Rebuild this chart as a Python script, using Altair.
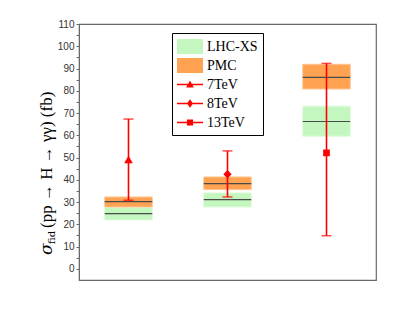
import altair as alt
import pandas as pd

# ---- data ----
energies = ["7TeV", "8TeV", "13TeV"]
xpos = [1, 2, 3]
lhc_lo = [22.0, 27.8, 59.6]
lhc_mid = [24.8, 31.1, 66.2]
lhc_hi = [27.5, 34.1, 73.1]
pmc_lo = [27.8, 35.6, 80.8]
pmc_mid = [30.2, 38.3, 86.0]
pmc_hi = [32.3, 41.3, 91.9]
meas = [49.1, 42.5, 52.1]
meas_lo = [30.8, 32.3, 14.9]
meas_hi = [67.3, 53.0, 92.3]
legend_names = ["LHC-XS", "PMC", "7TeV", "8TeV", "13TeV"]
y_ticks = list(range(0, 111, 5))
title_parts = ["σ", "fid", "(pp → H → γγ) (fb)"]

# ---- styles ----
GREEN = "#c4f7bf"
GREEN_EDGE = "#dcfbd8"
ORANGE = "#ffa352"
ORANGE_EDGE = "#ffc594"
RED = "#ff0000"
MIDLINE = "#4a4a4a"
HALF = 0.24
marker_shapes = ["triangle-up", "diamond", "square"]
marker_sizes = [75, 70, 45]

line_path = "M-1.53,-0.08L1.53,-0.08L1.53,0.08L-1.53,0.08Z"
legend_paths = [
    "M-1.53,-0.88L1.53,-0.88L1.53,0.88L-1.53,0.88Z",
    "M-1.53,-0.88L1.53,-0.88L1.53,0.88L-1.53,0.88Z",
    line_path + "M0,-0.47L0.45,0.35L-0.45,0.35Z",
    line_path + "M0,-0.5L0.35,0L0,0.5L-0.35,0Z",
    line_path + "M-0.36,-0.36L0.36,-0.36L0.36,0.36L-0.36,0.36Z",
]
legend_colors = [GREEN, ORANGE, RED, RED, RED]

df = pd.DataFrame(dict(
    energy=energies, x=xpos,
    lhc_lo=lhc_lo, lhc_mid=lhc_mid, lhc_hi=lhc_hi,
    pmc_lo=pmc_lo, pmc_mid=pmc_mid, pmc_hi=pmc_hi,
    meas=meas, meas_lo=meas_lo, meas_hi=meas_hi,
))

xscale = alt.Scale(domain=[0.5, 3.5], nice=False, zero=False)
yscale = alt.Scale(domain=[-5, 110], nice=False, zero=False)


def X(field):
    return alt.X(field, scale=xscale, axis=None)


def Y(field):
    return alt.Y(field, scale=yscale, title=None, axis=alt.Axis(
        values=y_ticks, labelOverlap=False, title=None,
        labelExpr="datum.value % 10 == 0 ? datum.label : ''",
    ))


base = alt.Chart(df).transform_calculate(
    x1=f"datum.x - {HALF}", x2=f"datum.x + {HALF}"
)

lhc_band = base.mark_rect(color=GREEN, stroke=GREEN_EDGE, strokeWidth=1).encode(
    x=X("x1:Q"), x2="x2:Q", y=Y("lhc_lo:Q"), y2="lhc_hi:Q",
)
pmc_band = base.mark_rect(color=ORANGE, stroke=ORANGE_EDGE, strokeWidth=1).encode(
    x=X("x1:Q"), x2="x2:Q", y=Y("pmc_lo:Q"), y2="pmc_hi:Q",
)
lhc_line = base.mark_rule(color=MIDLINE, strokeWidth=1.2).encode(
    x=X("x1:Q"), x2="x2:Q", y=Y("lhc_mid:Q"),
)
pmc_line = base.mark_rule(color=MIDLINE, strokeWidth=1.2).encode(
    x=X("x1:Q"), x2="x2:Q", y=Y("pmc_mid:Q"),
)
err = base.mark_rule(color=RED, strokeWidth=1.6).encode(
    x=X("x:Q"), y=Y("meas_lo:Q"), y2="meas_hi:Q",
)
cap_lo = base.mark_tick(orient="horizontal", color=RED, size=10, thickness=1.5).encode(
    x=X("x:Q"), y=Y("meas_lo:Q"),
)
cap_hi = base.mark_tick(orient="horizontal", color=RED, size=10, thickness=1.5).encode(
    x=X("x:Q"), y=Y("meas_hi:Q"),
)

point_layers = []
for e, shp, sz in zip(energies, marker_shapes, marker_sizes):
    point_layers.append(
        base.transform_filter(alt.datum.energy == e)
        .mark_point(filled=True, shape=shp, size=sz, color=RED, opacity=1)
        .encode(x=X("x:Q"), y=Y("meas:Q"))
    )

leg_props = dict(
    orient="none", legendX=93, legendY=9, padding=5,
    strokeColor="black", fillColor="white",
    labelFont="Liberation Serif", labelFontSize=14, labelColor="black",
    symbolSize=289, symbolOffset=4.5, labelOffset=8.5, rowPadding=3,
    symbolStrokeWidth=0, symbolOpacity=1,
)
legend_layer = alt.Chart(pd.DataFrame({"series": legend_names})).mark_point(
    filled=True, opacity=0
).encode(
    color=alt.Color("series:N", title=None,
                    scale=alt.Scale(domain=legend_names, range=legend_colors),
                    legend=alt.Legend(**leg_props)),
    shape=alt.Shape("series:N", title=None,
                    scale=alt.Scale(domain=legend_names, range=legend_paths),
                    legend=alt.Legend(**leg_props)),
)

tdf = pd.DataFrame({"t": title_parts})
t_sigma = alt.Chart(tdf).transform_filter(alt.datum.t == title_parts[0]).mark_text(
    angle=270, align="left", baseline="middle", font="DejaVu Serif",
    fontStyle="italic", fontSize=17, color="black"
).encode(text="t:N", x=alt.value(-32), y=alt.value(231))
t_sub = alt.Chart(tdf).transform_filter(alt.datum.t == title_parts[1]).mark_text(
    angle=270, align="left", baseline="middle", font="DejaVu Serif",
    fontSize=10, color="black"
).encode(text="t:N", x=alt.value(-27), y=alt.value(220))
t_rest = alt.Chart(tdf).transform_filter(alt.datum.t == title_parts[2]).mark_text(
    angle=270, align="left", baseline="middle", font="Liberation Serif",
    fontSize=17, color="black"
).encode(text="t:N", x=alt.value(-32), y=alt.value(204))

chart = alt.layer(
    lhc_band, pmc_band, lhc_line, pmc_line, err, cap_lo, cap_hi,
    *point_layers, legend_layer, t_sigma, t_sub, t_rest
).properties(
    width=297, height=256,
    autosize=alt.AutoSizeParams(type="none"),
    padding={"left": 71, "top": 16, "right": 30, "bottom": 25},
).configure_view(
    stroke="#6a6a6a", strokeWidth=1.2
).configure_axisY(
    grid=False, labelFont="Liberation Sans", labelFontSize=10, labelColor="#333333",
    tickColor="#6a6a6a", domainColor="#6a6a6a", tickSize=3, labelPadding=2,
)

chart.save("out.html", embed_options={"renderer": "svg", "actions": False})
